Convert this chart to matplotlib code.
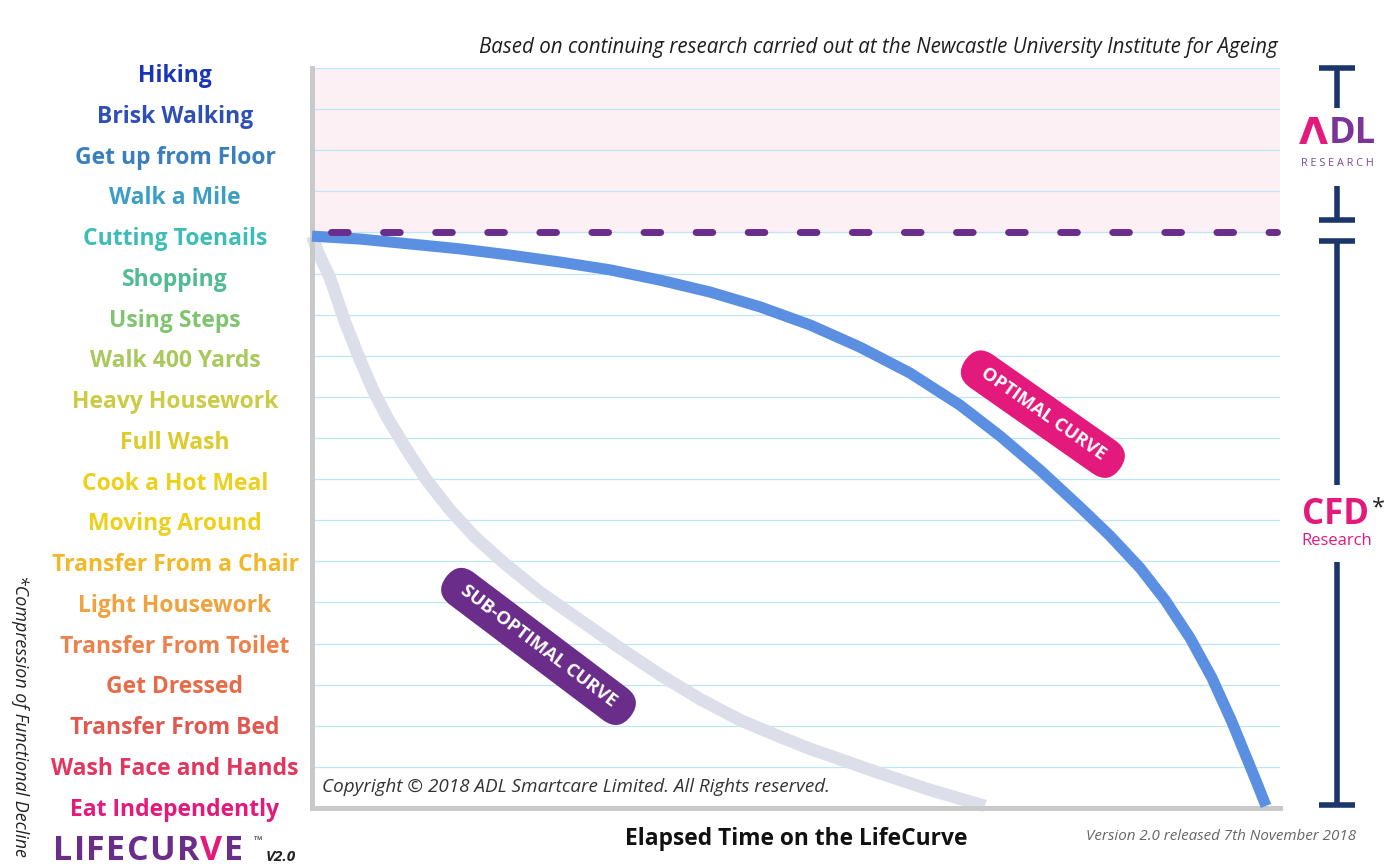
import matplotlib
matplotlib.use("Agg")
import matplotlib.pyplot as plt
from matplotlib.transforms import blended_transform_factory

plt.rcParams['font.family'] = ['Open Sans', 'DejaVu Sans']

# ---------------- data ----------------
activities = ["Eat Independently", "Wash Face and Hands", "Transfer From Bed", "Get Dressed",
              "Transfer From Toilet", "Light Housework", "Transfer From a Chair", "Moving Around",
              "Cook a Hot Meal", "Full Wash", "Heavy Housework", "Walk 400 Yards", "Using Steps",
              "Shopping", "Cutting Toenails", "Walk a Mile", "Get up from Floor", "Brisk Walking",
              "Hiking"]
activity_colors = ["#e3197c", "#e2365f", "#e0584f", "#e66c49", "#ec814c", "#efa23d", "#f2b82a",
                   "#ecd11c", "#ecd11c", "#dccb2b", "#cbcb45", "#a9c95c", "#80c46f", "#4fbc92",
                   "#3dbdb6", "#3b9ec2", "#3a7fbd", "#2e4fb6", "#1a36b6"]

optimal_x = [0, 4.96, 10.12, 15.29, 20.45, 25.62, 30.79, 35.95, 41.12, 46.28, 51.45, 56.61,
             61.78, 66.94, 71.07, 75.21, 79.34, 82.44, 85.54, 88.12, 90.70, 92.98, 95.04,
             96.90, 97.73, 98.55]
optimal_y = [13.91, 13.84, 13.72, 13.60, 13.45, 13.28, 13.09, 12.84, 12.55, 12.19, 11.75, 11.21,
             10.58, 9.80, 9.05, 8.22, 7.32, 6.62, 5.84, 5.06, 4.14, 3.16, 2.09, 1.02, 0.54, 0.05]

suboptimal_x = [0, 0.62, 1.86, 3.41, 4.96, 6.30, 7.75, 9.61, 11.67, 14.26, 16.84, 19.73, 23.55,
                27.69, 31.82, 35.95, 40.08, 44.21, 48.35, 51.45, 58.26, 63.84, 69.52]
suboptimal_y = [13.91, 13.52, 12.89, 11.82, 10.90, 10.17, 9.51, 8.78, 8.03, 7.25, 6.59, 5.98,
                5.25, 4.57, 3.89, 3.24, 2.65, 2.14, 1.73, 1.44, 0.88, 0.44, 0.05]

adl_threshold = 14  # Cutting Toenails level

W, H = 1391, 867
fig = plt.figure(figsize=(W / 100, H / 100), dpi=100)

def fx(px):
    return px / W

def fy(py):
    return 1 - py / H

ax = fig.add_axes([fx(312), fy(808), fx(1280) - fx(312), (808 - 68) / H])
ax.set_xlim(0, 100)
ax.set_ylim(0, len(activities) - 1)

# shaded ADL research band
ax.axhspan(adl_threshold, len(activities) - 1, color="#fdf0f5", zorder=0)
for lvl in range(1, len(activities)):
    ax.axhline(lvl, color="#bde6f6", lw=0.9, zorder=1)

# curves
ax.plot(suboptimal_x, suboptimal_y, color="#dcdeea", lw=9, solid_capstyle="butt",
        solid_joinstyle="round", zorder=2, clip_on=False)
ax.plot(optimal_x, optimal_y, color="#5a8fe2", lw=8, solid_capstyle="butt",
        solid_joinstyle="round", zorder=3, clip_on=False)

# dashed threshold line
ax.plot([2.0, 99.7], [adl_threshold, adl_threshold], color="#6a2d8a", lw=5,
        ls=(0, (2.4, 5.1)), dash_capstyle="round", zorder=4, clip_on=False)

for s in ["top", "right"]:
    ax.spines[s].set_visible(False)
for s in ["left", "bottom"]:
    ax.spines[s].set_color("#c9c9c9")
    ax.spines[s].set_linewidth(3.6)
ax.set_xticks([])
ax.set_yticks([])

# activity labels
tr = blended_transform_factory(fig.transFigure, ax.transData)
n = len(activities)
for i, (name, col) in enumerate(zip(activities, activity_colors)):
    yoff = -0.04 - 0.16 * (i / (n - 1))
    ax.text(fx(175), i + yoff, name, transform=tr, ha="center", va="center",
            fontsize=16.5, fontweight="bold", color=col)

# badges
ax.text(75.5, 9.58, "  OPTIMAL CURVE  ", rotation=-35, rotation_mode="anchor",
        ha="center", va="center", fontsize=13.2, fontweight="bold", color="white", zorder=6,
        bbox=dict(boxstyle="round,pad=0.6,rounding_size=1.1", fc="#e3197c", ec="none"))
ax.text(23.4, 3.93, "  SUB-OPTIMAL CURVE  ", rotation=-37, rotation_mode="anchor",
        ha="center", va="center", fontsize=13.2, fontweight="bold", color="white", zorder=6,
        bbox=dict(boxstyle="round,pad=0.6,rounding_size=1.1", fc="#6a2d8a", ec="none"))

# overlay for decorations in pixel coords
ov = fig.add_axes([0, 0, 1, 1], zorder=-1)
ov.set_xlim(0, W)
ov.set_ylim(H, 0)
ov.axis("off")
ov.patch.set_alpha(0)

navy = "#1b3769"
lw_b = 4.0
# ADL bracket
ov.plot([1337, 1337], [68, 108], color=navy, lw=lw_b, solid_capstyle="butt")
ov.plot([1337, 1337], [186, 220], color=navy, lw=lw_b, solid_capstyle="butt")
ov.plot([1319, 1355], [68, 68], color=navy, lw=lw_b, solid_capstyle="butt")
ov.plot([1319, 1355], [220, 220], color=navy, lw=lw_b, solid_capstyle="butt")
# CFD bracket
ov.plot([1337, 1337], [241, 485], color=navy, lw=lw_b, solid_capstyle="butt")
ov.plot([1337, 1337], [562, 805], color=navy, lw=lw_b, solid_capstyle="butt")
ov.plot([1319, 1355], [241, 241], color=navy, lw=lw_b, solid_capstyle="butt")
ov.plot([1319, 1355], [805, 805], color=navy, lw=lw_b, solid_capstyle="butt")

# ADL logo
ov.text(1313, 134, "Λ", ha="center", va="center", fontsize=27, fontweight="bold",
        color="#e3197c", family=["DejaVu Sans"])
ov.text(1352, 134, "DL", ha="center", va="center", fontsize=26, fontweight="bold",
        color="#7a3596")
ov.text(1337, 163, "R E S E A R C H", ha="center", va="center", fontsize=7.8,
        color="#7a4a98")

# CFD logo
ov.text(1336, 515, "CFD", ha="center", va="center", fontsize=25, fontweight="bold",
        color="#e3197c")
ov.text(1378, 508, "*", ha="center", va="center", fontsize=17, color="#222222")
ov.text(1337, 541, "Research", ha="center", va="center", fontsize=12, color="#e3197c")

# texts
fig.text(fx(1278), fy(48), "Based on continuing research carried out at the Newcastle University Institute for Ageing",
         ha="right", va="center", fontsize=14.8, style="italic", color="#1e1e1e")
fig.text(fx(322), fy(787), "Copyright © 2018 ADL Smartcare Limited. All Rights reserved.",
         ha="left", va="center", fontsize=13.6, style="italic", color="#333333")
fig.text(fx(796), fy(839), "Elapsed Time on the LifeCurve", ha="center", va="center",
         fontsize=16.4, fontweight="bold", color="#111111")
fig.text(fx(1356), fy(836), "Version 2.0 released 7th November 2018", ha="right", va="center",
         fontsize=10.9, style="italic", color="#666666")
fig.text(fx(20), fy(716), "*Compression of Functional Decline", ha="center", va="center",
         rotation=-90, fontsize=12.9, style="italic", color="#222222")

# LIFECURVE logo
purple = "#6a2d8a"
logo_letters = list("LIFECURVE")
logo_colors = [purple] * 7 + ["#e3197c", purple]
prev = fig.text(fx(53), fy(851), logo_letters[0], ha="left", va="center", fontsize=24.5,
                fontweight="bold", color=logo_colors[0])
for letter, col in zip(logo_letters[1:], logo_colors[1:]):
    prev = ov.annotate(letter, xy=(1, 0), xycoords=prev, xytext=(1.0, 0),
                       textcoords="offset points", ha="left", va="bottom", fontsize=24.5,
                       fontweight="bold", color=col)
fig.text(fx(258), fy(842), "™", ha="center", va="center", fontsize=8, color="#333333")
fig.text(fx(281), fy(857), "V2.0", ha="center", va="center", fontsize=11,
         fontweight="bold", style="italic", color="#222222")

fig.savefig("out.png", dpi=100)
